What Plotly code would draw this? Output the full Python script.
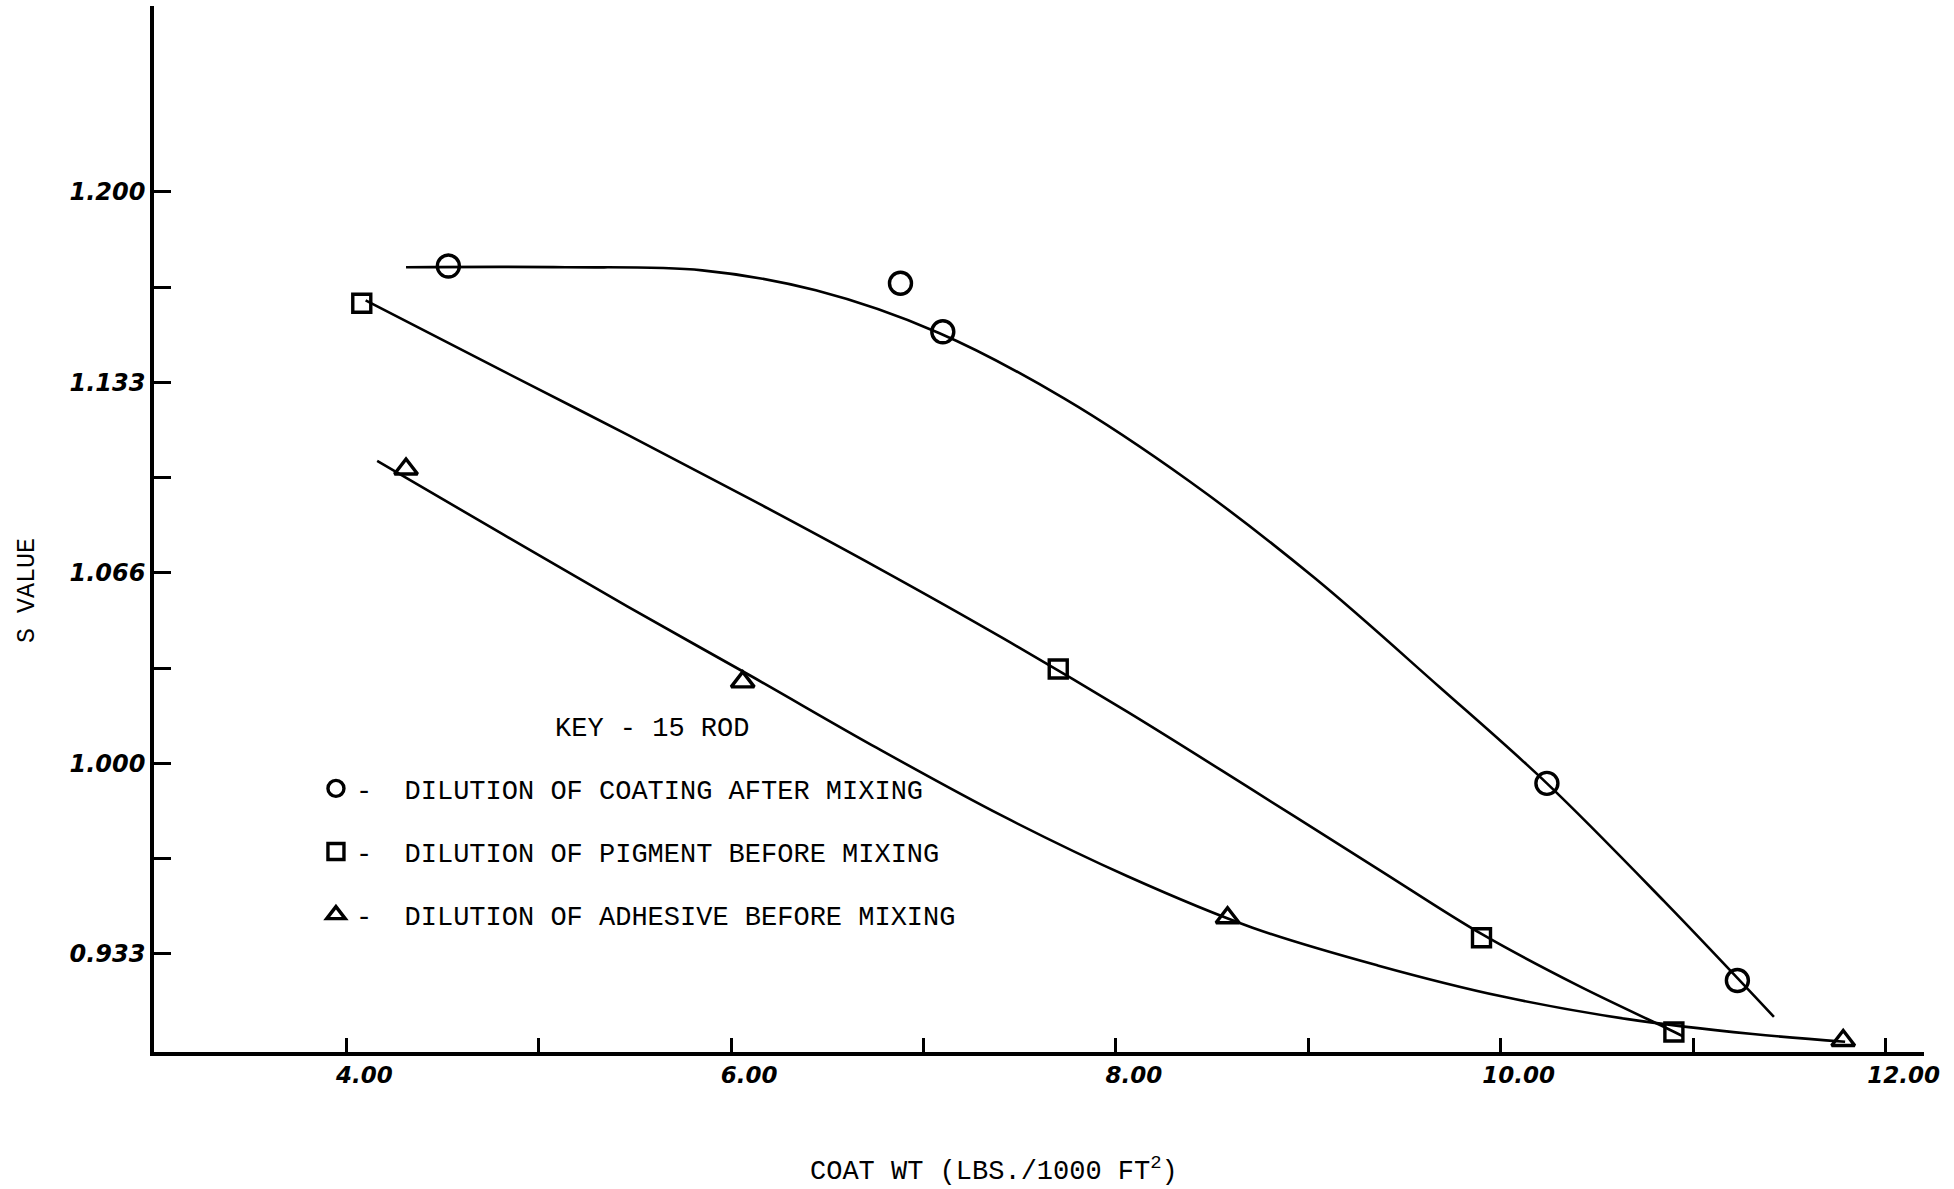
import plotly.graph_objects as go

# ---- data ----
coating_x = [4.53, 6.88, 7.10, 10.24, 11.23]
coating_y = [1.174, 1.168, 1.151, 0.993, 0.924]
pigment_x = [4.08, 7.70, 9.90, 10.90]
pigment_y = [1.161, 1.033, 0.939, 0.906]
adhesive_x = [4.31, 6.06, 8.58, 11.78]
adhesive_y = [1.103, 1.0285, 0.946, 0.903]

# hand-drawn fitted curves
coating_curve_x = [4.31, 5.14, 5.85, 6.44, 7.08, 7.73, 8.38, 9.03, 9.68, 10.24, 10.85, 11.42]
coating_curve_y = [1.1736, 1.1736, 1.1725, 1.1655, 1.1506, 1.1277, 1.0988, 1.0650, 1.0268, 0.9930, 0.9517, 0.9113]
pigment_curve_x = [4.10, 4.81, 5.46, 6.11, 6.76, 7.41, 8.06, 8.71, 9.36, 9.90, 10.40, 10.90, 10.95]
pigment_curve_y = [1.1620, 1.1374, 1.1150, 1.0921, 1.0685, 1.0439, 1.0180, 0.9907, 0.9631, 0.9403, 0.9223, 0.9061, 0.9044]
adhesive_curve_x = [4.16, 4.81, 5.46, 6.11, 6.76, 7.41, 8.06, 8.71, 9.36, 10.01, 10.66, 11.31, 11.79]
adhesive_curve_y = [1.1058, 1.0803, 1.0549, 1.0303, 1.0053, 0.9816, 0.9605, 0.9425, 0.9293, 0.9184, 0.9105, 0.9053, 0.9026]

series_names = [
    "-\u00a0\u00a0DILUTION OF COATING AFTER MIXING",
    "-\u00a0\u00a0DILUTION OF PIGMENT BEFORE MIXING",
    "-\u00a0\u00a0DILUTION OF ADHESIVE BEFORE MIXING",
]
key_title = "KEY - 15 ROD"
x_title = "COAT WT (LBS./1000 FT<sup>2</sup>)"
y_title = "S VALUE"

x_tick_vals = [4, 6, 8, 10, 12]
x_tick_text = ["4.00", "6.00", "8.00", "10.00", "12.00"]
x_minor_vals = [5, 7, 9, 11]
y_tick_vals = [0.93333, 1.0, 1.06667, 1.13333, 1.2]
y_tick_text = ["0.933", "1.000", "1.066", "1.133", "1.200"]
y_minor_vals = [0.96667, 1.03333, 1.1, 1.16667]

MONO = "Liberation Mono, Courier New, monospace"
HAND = "DejaVu Sans"

fig = go.Figure()

curves = [
    (coating_curve_x, coating_curve_y),
    (pigment_curve_x, pigment_curve_y),
    (adhesive_curve_x, adhesive_curve_y),
]
for cx, cy in curves:
    fig.add_trace(go.Scatter(x=cx, y=cy, mode="lines",
                             line=dict(color="black", width=2.6, shape="spline", smoothing=1.0),
                             showlegend=False, hoverinfo="skip"))

points = [
    (coating_x, coating_y, "circle-open", 22),
    (pigment_x, pigment_y, "square-open", 18),
    (adhesive_x, adhesive_y, "triangle-up-open", 20),
]
for i, (px, py, sym, sz) in enumerate(points):
    fig.add_trace(go.Scatter(x=px, y=py, mode="markers", name=series_names[i], legendgroup=str(i),
                             marker=dict(symbol=sym, size=sz, color="black",
                                         line=dict(color="black", width=3.4))))

fig.add_annotation(text=key_title, xref="paper", yref="paper", x=0.2254, y=0.3088,
                   xanchor="left", yanchor="middle", showarrow=False,
                   font=dict(family=MONO, size=27, color="black"))
fig.add_annotation(text=x_title, xref="paper", yref="paper", x=0.4745, y=-0.1128,
                   xanchor="center", yanchor="middle", showarrow=False,
                   font=dict(family=MONO, size=27, color="black"))
fig.add_annotation(text=y_title, xref="paper", yref="paper", x=-0.0717, y=0.4407, textangle=-90,
                   xanchor="center", yanchor="middle", showarrow=False,
                   font=dict(family=MONO, size=25, color="black"))

fig.update_layout(
    width=1954, height=1189,
    margin=dict(l=154, r=30, t=6, b=137),
    paper_bgcolor="white", plot_bgcolor="white",
    showlegend=True,
    legend=dict(x=0.0915, y=0.275, xanchor="left", yanchor="top", bgcolor="rgba(0,0,0,0)",
                font=dict(family=MONO, size=27, color="black"), traceorder="grouped", tracegroupgap=25,
                itemsizing="trace"),
    xaxis=dict(range=[3.0, 12.2], showline=True, linewidth=3.5, linecolor="black", showgrid=False, zeroline=False,
               ticks="inside", ticklen=14, tickwidth=2.5, tickcolor="black",
               tickmode="array", tickvals=x_tick_vals, ticktext=x_tick_text, ticklabelstandoff=0,
               ticklabelshift=18,
               minor=dict(tickmode="array", tickvals=x_minor_vals, ticks="inside", ticklen=14, tickwidth=2.5,
                          tickcolor="black", showgrid=False),
               tickfont=dict(family=HAND, size=23, color="black", style="italic", weight="bold")),
    yaxis=dict(range=[0.899, 1.265], showline=True, linewidth=3.5, linecolor="black", showgrid=False, zeroline=False,
               ticks="inside", ticklen=17, tickwidth=2.5, tickcolor="black",
               tickmode="array", tickvals=y_tick_vals, ticktext=y_tick_text,
               minor=dict(tickmode="array", tickvals=y_minor_vals, ticks="inside", ticklen=17, tickwidth=2.5,
                          tickcolor="black", showgrid=False),
               tickfont=dict(family=HAND, size=24, color="black", style="italic", weight="bold")),
)

fig.write_html("out.html", config={"displayModeBar": False},
               post_script="document.body.style.margin='0';document.body.style.overflow='hidden';")
